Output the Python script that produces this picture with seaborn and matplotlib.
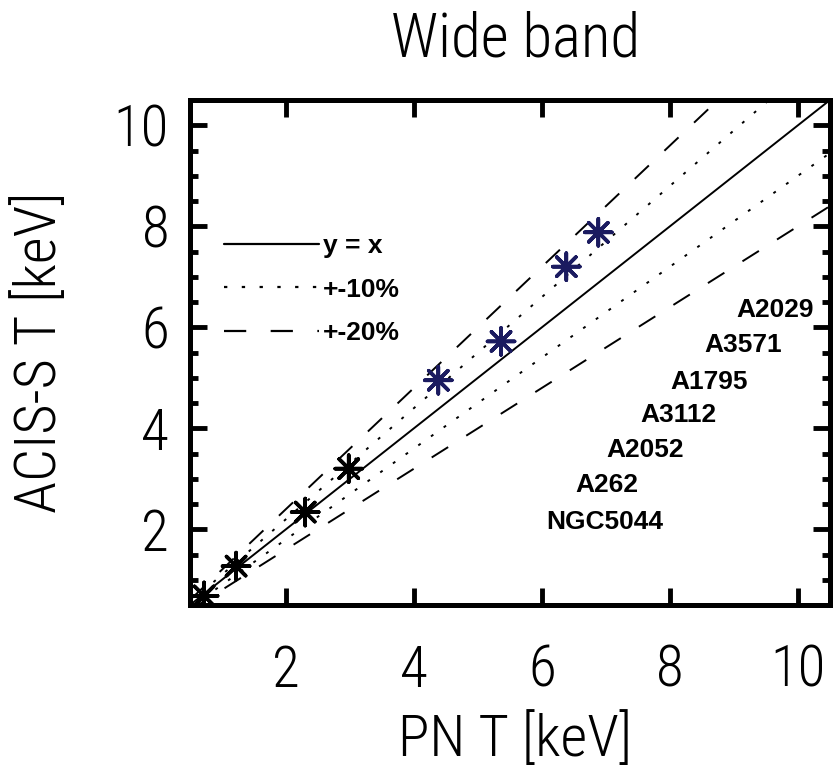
import matplotlib
matplotlib.use("Agg")
import matplotlib.pyplot as plt
from matplotlib import font_manager
from matplotlib.lines import Line2D
from matplotlib.ticker import MultipleLocator
import numpy as np
import pandas as pd
import seaborn as sns

# ---- data ----
pn_t = [0.72, 1.22, 2.30, 2.98, 4.38, 5.36, 6.38, 6.88]
acis_t = [0.68, 1.27, 2.34, 3.20, 4.95, 5.72, 7.20, 7.88]
point_group = ["low", "low", "low", "low", "high", "high", "high", "high"]
cluster_names = ["A2029", "A3571", "A1795", "A3112", "A2052", "A262", "NGC5044"]
name_x = [9.03, 8.53, 8.00, 7.54, 7.00, 6.52, 6.06]
name_y = [6.34, 5.65, 4.92, 4.27, 3.57, 2.88, 2.15]
ref_range = [0.5, 10.5]
ref_factors = [1.0, 1.1, 0.9, 1.2, 0.8]
ref_kind = ["y = x", "+-10%", "+-10%", "+-20%", "+-20%"]
x_ticks = [2, 4, 6, 8, 10]
y_ticks = [2, 4, 6, 8, 10]

sns.set_style("ticks")
fonts = font_manager.fontManager.ttflist
names = {f.name for f in fonts}
thin, thin_weight, thin_stretch = "Roboto", "light", "normal"
for cand in ["Roboto Condensed", "Liberation Sans Narrow", "Open Sans Condensed"]:
    if cand in names:
        thin, thin_weight = cand, "light"
        break
else:
    if any(f.name == "DejaVu Sans" and f.stretch == "condensed" for f in fonts):
        thin, thin_weight, thin_stretch = "DejaVu Sans", "normal", "condensed"
plt.rcParams["font.family"] = [thin, "DejaVu Sans"]
for key in ["text.color", "axes.labelcolor", "xtick.color", "ytick.color",
            "axes.edgecolor"]:
    plt.rcParams[key] = "black"
thin_kw = dict(fontweight=thin_weight, fontstretch=thin_stretch)

styles = {"y = x": "-", "+-10%": (0, (1.5, 6.5)), "+-20%": (0, (10, 11))}

fig = plt.figure(figsize=(8.34, 7.79), dpi=100)
ax = fig.add_axes([190 / 834, 1 - 605 / 779, 640 / 834, 505 / 779])

for f, k in zip(ref_factors, ref_kind):
    xs = np.array(ref_range)
    sns.lineplot(x=xs, y=xs * f, ax=ax, color="black", linewidth=1.4,
                 linestyle=styles[k])

df = pd.DataFrame({"pn": pn_t, "acis": acis_t, "grp": point_group})
sns.scatterplot(data=df, x="pn", y="acis", hue="grp",
                palette={"low": "black", "high": "#1b1b60"},
                marker=(8, 2, 0), s=380, linewidth=2.6, legend=False, ax=ax,
                clip_on=True, zorder=5)

for n, x, y in zip(cluster_names, name_x, name_y):
    ax.text(x, y, n, ha="left", va="center", fontsize=19, fontweight="bold",
            color="black", family=["Liberation Sans", "DejaVu Sans"])

handles = [Line2D([], [], color="black", lw=1.6, linestyle=styles[k])
           for k in ["y = x", "+-10%", "+-20%"]]
leg = ax.legend(handles, ["y = x", "+-10%", "+-20%"], loc="upper left",
                bbox_to_anchor=(0.053, 0.735), frameon=False, borderpad=0,
                borderaxespad=0, handlelength=3.6, handletextpad=0.15,
                labelspacing=0.75,
                prop={"family": "Liberation Sans", "weight": "bold", "size": 19})
for t in leg.get_texts():
    t.set_color("black")

ax.set_xlim(ref_range)
ax.set_ylim(ref_range)
ax.set_xticks(x_ticks)
ax.set_yticks(y_ticks)
ax.yaxis.set_minor_locator(MultipleLocator(0.5))
ax.tick_params(which="both", direction="in", top=True, right=True,
               colors="black")
ax.tick_params(which="major", length=12, width=3.5, labelsize=41)
ax.tick_params(which="minor", length=6, width=3.5)
ax.tick_params(axis="x", which="major", pad=28)
ax.tick_params(axis="y", which="major", pad=15)
for lab in ax.get_xticklabels() + ax.get_yticklabels():
    lab.set_fontweight(thin_weight)
    lab.set_fontstretch(thin_stretch)
for s in ax.spines.values():
    s.set_linewidth(3.6)
    s.set_color("black")

ax.set_xlabel("PN T [keV]", fontsize=42, va="center", **thin_kw)
ax.set_ylabel("ACIS-S T [keV]", fontsize=42, va="center", **thin_kw)
ax.xaxis.set_label_coords(0.508, -0.267)
ax.yaxis.set_label_coords(-0.234, 0.5)
ax.text(0.508, 1.119, "Wide band", transform=ax.transAxes, ha="center",
        va="center", fontsize=44, **thin_kw)

fig.savefig("out.png", dpi=100)
